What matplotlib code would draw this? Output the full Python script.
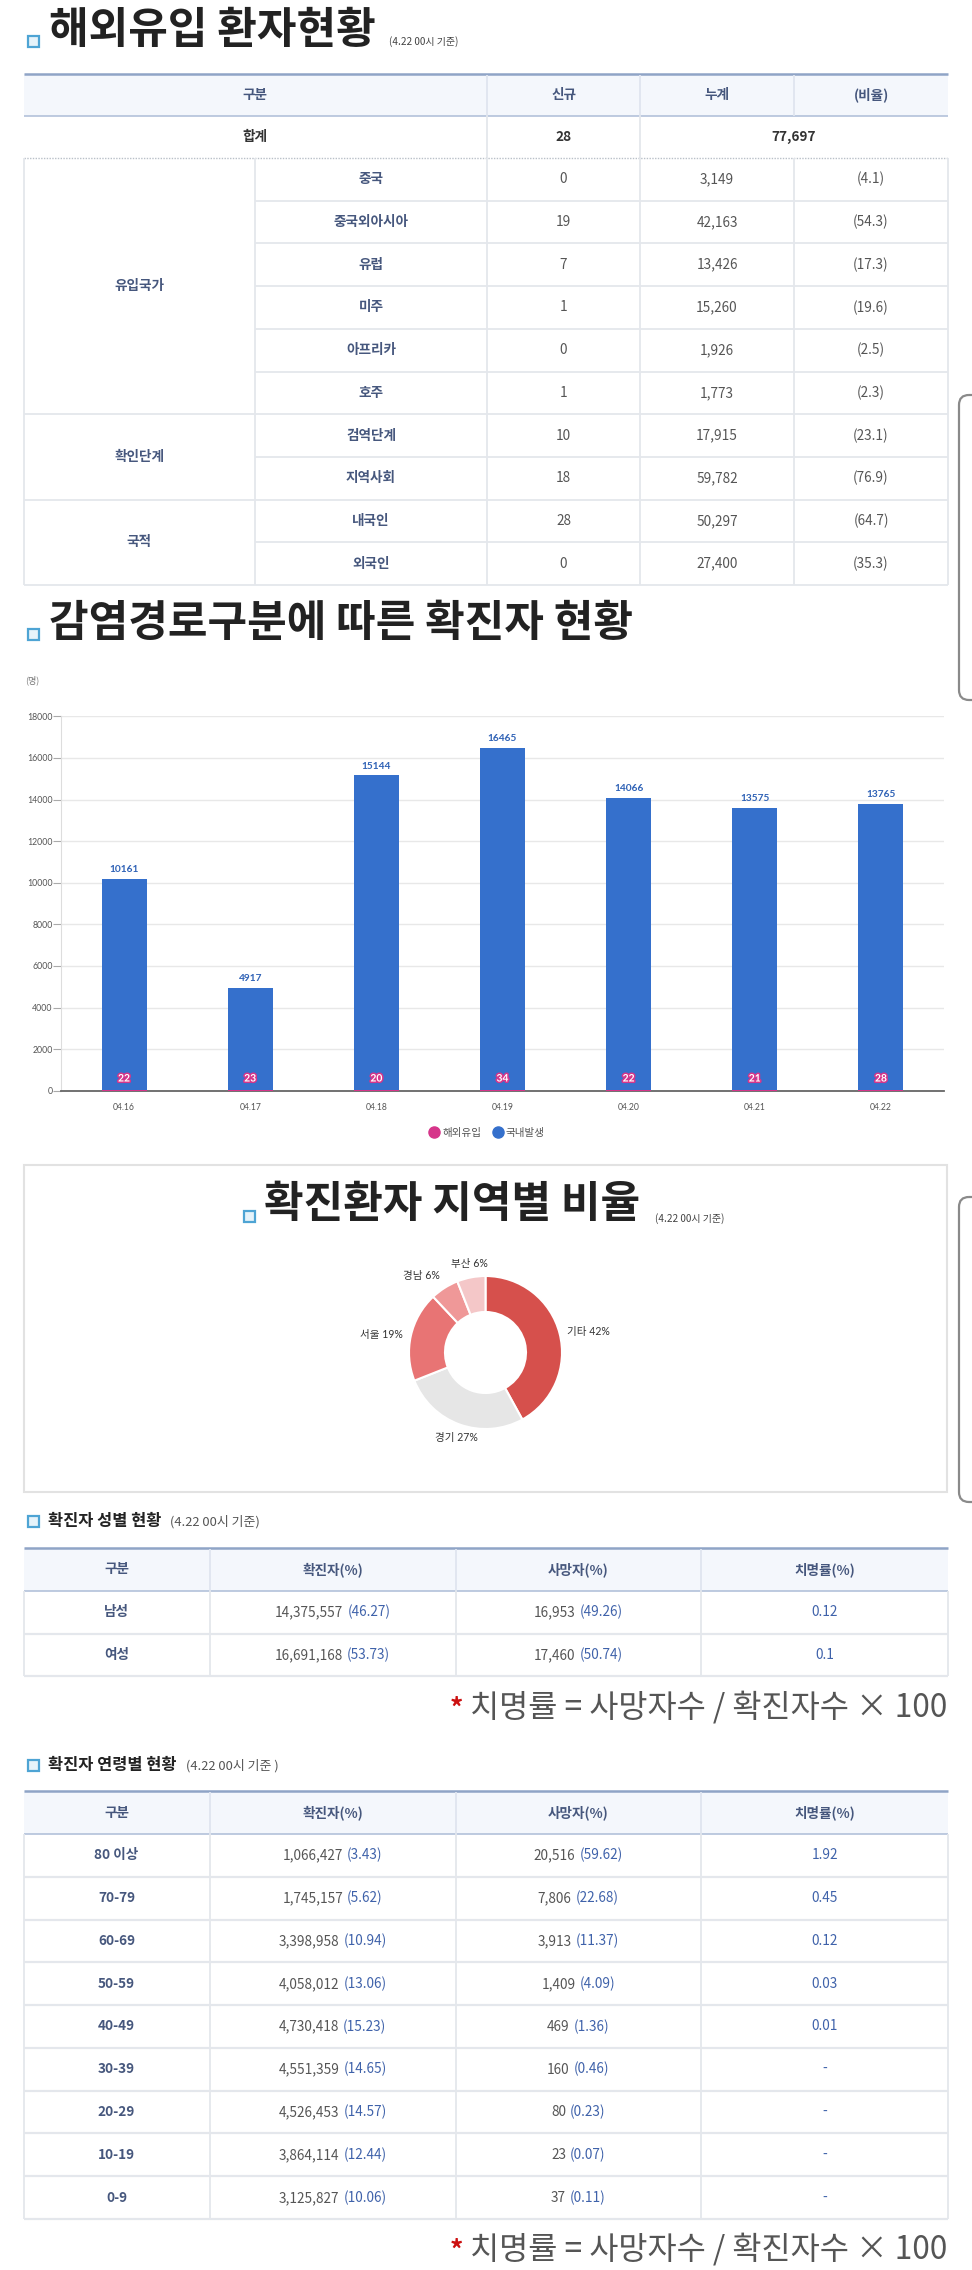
import matplotlib
matplotlib.use("Agg")
import matplotlib.pyplot as plt
import matplotlib.patheffects as pe
from matplotlib.patches import Rectangle, FancyBboxPatch
from matplotlib.lines import Line2D
from matplotlib.offsetbox import TextArea, HPacker, AnnotationBbox
import numpy as np

plt.rcParams["font.family"] = ["Noto Sans CJK KR", "DejaVu Sans"]

# ---------------- 데이터 ----------------
# 해외유입 환자현황
imp_header = ["구분", "신규", "누계", "(비율)"]
imp_total_new = 28
imp_total_cum = 77697
imp_groups = ["유입국가", "확인단계", "국적"]
imp_group_sizes = [6, 2, 2]
imp_items = ["중국", "중국외아시아", "유럽", "미주", "아프리카", "호주",
             "검역단계", "지역사회", "내국인", "외국인"]
imp_new = [0, 19, 7, 1, 0, 1, 10, 18, 28, 0]
imp_cum = [3149, 42163, 13426, 15260, 1926, 1773, 17915, 59782, 50297, 27400]
imp_ratio = [4.1, 54.3, 17.3, 19.6, 2.5, 2.3, 23.1, 76.9, 64.7, 35.3]

# 감염경로구분에 따른 확진자 현황
dates = ["04.16", "04.17", "04.18", "04.19", "04.20", "04.21", "04.22"]
overseas = [22, 23, 20, 34, 22, 21, 28]
domestic = [10161, 4917, 15144, 16465, 14066, 13575, 13765]

# 확진환자 지역별 비율
regions = ["기타", "경기", "서울", "경남", "부산"]
region_pct = [42, 27, 19, 6, 6]
region_colors = ["#d6504c", "#e6e6e6", "#e87474", "#ef9898", "#f4c7c8"]

# 확진자 성별 현황
stat_header = ["구분", "확진자(%)", "사망자(%)", "치명률(%)"]
sex_labels = ["남성", "여성"]
sex_cases = [14375557, 16691168]
sex_cases_pct = ["46.27", "53.73"]
sex_deaths = [16953, 17460]
sex_deaths_pct = ["49.26", "50.74"]
sex_cfr = ["0.12", "0.1"]

# 확진자 연령별 현황
age_labels = ["80 이상", "70-79", "60-69", "50-59", "40-49", "30-39", "20-29", "10-19", "0-9"]
age_cases = [1066427, 1745157, 3398958, 4058012, 4730418, 4551359, 4526453, 3864114, 3125827]
age_cases_pct = ["3.43", "5.62", "10.94", "13.06", "15.23", "14.65", "14.57", "12.44", "10.06"]
age_deaths = [20516, 7806, 3913, 1409, 469, 160, 80, 23, 37]
age_deaths_pct = ["59.62", "22.68", "11.37", "4.09", "1.36", "0.46", "0.23", "0.07", "0.11"]
age_cfr = ["1.92", "0.45", "0.12", "0.03", "0.01", "-", "-", "-", "-"]

# ---------------- 스타일 ----------------
W, H = 972, 2270
LINE = "#e4e7ec"
HEAD_BG = "#f4f7fc"
HEAD_TOP = "#8fa4c6"
NAVY = "#46577d"
GRAY = "#555555"
BLUE = "#3f62aa"
BAR_BLUE = "#3570cc"
PINK = "#d6358a"
FS = 9.8
TITLE_FS = 31
CHART_FONT = ["Lato", "Noto Sans CJK KR"]

fig = plt.figure(figsize=(W / 100, H / 100), dpi=100)
fig.patch.set_facecolor("white")
bg = fig.add_axes([0, 0, 1, 1])
bg.set_xlim(0, W)
bg.set_ylim(H, 0)
bg.axis("off")


def hline(x0, x1, y, color=LINE, lw=1.3, ls="-"):
    bg.plot([x0, x1], [y, y], color=color, lw=lw, ls=ls, solid_capstyle="butt")


def vline(x, y0, y1, color=LINE, lw=1.3):
    bg.plot([x, x], [y0, y1], color=color, lw=lw, solid_capstyle="butt")


def icon(x, y, s=11):
    bg.add_patch(Rectangle((x, y), s, s, fc="#e6f3fa", ec="#4ea4d4", lw=1.6))


def txt(x, y, s, **kw):
    kw.setdefault("ha", "center")
    kw.setdefault("va", "center")
    bg.text(x, y, s, **kw)


def two_tone(x, y, a, b, size=FS):
    box = HPacker(children=[TextArea(a, textprops=dict(color=GRAY, size=size)),
                            TextArea("(" + b + ")", textprops=dict(color=BLUE, size=size))],
                  sep=3, pad=0, align="baseline")
    bg.add_artist(AnnotationBbox(box, (x, y), xycoords="data", frameon=False,
                                 box_alignment=(0.5, 0.5), pad=0))


def header_block(x0, x1, y0, y1):
    bg.add_patch(Rectangle((x0, y0), x1 - x0, y1 - y0, fc=HEAD_BG, ec="none"))
    hline(x0, x1, y0, color=HEAD_TOP, lw=1.8)
    hline(x0, x1, y1, color="#b3c1da", lw=1.2)


def footnote(y):
    box = HPacker(children=[TextArea("*", textprops=dict(color="#cc1111", size=19, weight="bold")),
                            TextArea("치명률 = 사망자수 / 확진자수 × 100",
                                     textprops=dict(color="#555555", size=22.8))],
                  sep=5, pad=0, align="baseline")
    bg.add_artist(AnnotationBbox(box, (947, y), xycoords="data", frameon=False,
                                 box_alignment=(1, 0.5), pad=0))


# ---------------- 1. 해외유입 환자현황 ----------------
icon(28, 36)
txt(49, 30, "해외유입 환자현황", ha="left", size=TITLE_FS, weight="bold", color="#222222")
txt(389, 42, "(4.22 00시 기준)", ha="left", size=7.2, color="#444444")

c1 = [23.5, 255, 487, 640, 794, 948]
t_top, t_head, t_sum = 73.5, 116, 158
rh = (585 - t_sum) / len(imp_items)

header_block(c1[0], c1[-1], t_top, t_head)
for x in c1[2:5]:
    vline(x, t_top + 1, t_head, color="#dfe5ef")
txt((c1[0] + c1[2]) / 2, (t_top + t_head) / 2, imp_header[0], color=NAVY, size=FS, weight="bold")
for j in range(1, 4):
    txt((c1[j + 1] + c1[j + 2]) / 2, (t_top + t_head) / 2, imp_header[j], color=NAVY, size=FS, weight="bold")

# 합계
ys = (t_head + t_sum) / 2
txt((c1[0] + c1[2]) / 2, ys, "합계", color="#333333", size=FS, weight="bold")
txt((c1[2] + c1[3]) / 2, ys, str(imp_total_new), color="#333333", size=FS, weight="bold")
txt((c1[3] + c1[5]) / 2, ys, f"{imp_total_cum:,}", color="#333333", size=FS, weight="bold")
vline(c1[2], t_head, t_sum)
vline(c1[3], t_head, t_sum)
hline(c1[0], c1[-1], t_sum, color="#b9c0c8", lw=1.0, ls=(0, (1, 1)))

# 본문
for i, name in enumerate(imp_items):
    y0 = t_sum + i * rh
    yc = y0 + rh / 2
    txt((c1[1] + c1[2]) / 2, yc, name, color=NAVY, size=FS, weight="bold")
    txt((c1[2] + c1[3]) / 2, yc, str(imp_new[i]), color=GRAY, size=FS)
    txt((c1[3] + c1[4]) / 2, yc, f"{imp_cum[i]:,}", color=GRAY, size=FS)
    txt((c1[4] + c1[5]) / 2, yc, f"({imp_ratio[i]})", color=GRAY, size=FS)
    hline(c1[1], c1[-1], y0 + rh)

start = 0
for g, n in zip(imp_groups, imp_group_sizes):
    gy0 = t_sum + start * rh
    gy1 = t_sum + (start + n) * rh
    txt((c1[0] + c1[1]) / 2, (gy0 + gy1) / 2, g, color=NAVY, size=FS, weight="bold")
    hline(c1[0], c1[1], gy1)
    start += n
for x in c1:
    vline(x, t_sum, t_sum + len(imp_items) * rh)

# ---------------- 2. 감염경로구분에 따른 확진자 현황 ----------------
icon(28, 629)
txt(49, 623, "감염경로구분에 따른 확진자 현황", ha="left", size=TITLE_FS, weight="bold", color="#222222")
txt(25, 680, "(명)", ha="left", size=6.5, color="#777777")

ax = fig.add_axes([61 / W, 1 - 1090.7 / H, 883 / W, 374.3 / H])
xpos = np.arange(len(dates))
b_over = ax.bar(xpos, overseas, width=0.357, color=PINK, zorder=3)
b_dom = ax.bar(xpos, domestic, bottom=overseas, width=0.357, color=BAR_BLUE, zorder=3)
ax.set_xlim(-0.5, len(dates) - 0.5)
ax.set_ylim(0, 18000)
ax.set_yticks(range(0, 18001, 2000))
ax.set_xticks(xpos)
ax.set_xticklabels(dates)
ax.grid(axis="y", color="#e8e8e8", lw=1)
ax.set_axisbelow(True)
for s in ["top", "right"]:
    ax.spines[s].set_visible(False)
ax.spines["left"].set_color("#dddddd")
ax.spines["bottom"].set_color("#666666")
ax.spines["bottom"].set_linewidth(1.3)
ax.tick_params(axis="y", length=5.5, color="#aaaaaa", labelsize=6.3, labelcolor="#555555", pad=0.5)
ax.tick_params(axis="x", length=0, labelsize=6.2, labelcolor="#555555", pad=9)
for lab in ax.get_xticklabels() + ax.get_yticklabels():
    lab.set_fontfamily(CHART_FONT)

ax.bar_label(b_dom, labels=[str(v) for v in domestic], padding=3.5,
             color="#2f62b6", fontsize=7.3, fontweight="bold", family=CHART_FONT)
for i, v in enumerate(overseas):
    ax.annotate(str(v), (xpos[i], 0), xytext=(0, 8.4), textcoords="offset points",
                ha="center", va="center", color="white", fontsize=7.4, fontweight="bold",
                family=CHART_FONT,
                path_effects=[pe.withStroke(linewidth=2.2, foreground=PINK)], zorder=5)

handles = [Line2D([], [], ls="none", marker="o", ms=8, mfc=PINK, mec=PINK),
           Line2D([], [], ls="none", marker="o", ms=8, mfc=BAR_BLUE, mec=BAR_BLUE)]
fig.legend(handles, ["해외유입", "국내발생"], loc="center",
           bbox_to_anchor=(487 / W, 1 - 1133 / H), ncol=2, frameon=False,
           fontsize=7.6, labelcolor="#555555", handletextpad=0.3, columnspacing=1.0,
           handlelength=1.0)

# ---------------- 3. 확진환자 지역별 비율 ----------------
bg.add_patch(Rectangle((23.5, 1165), 923.5, 327, fc="none", ec="#e2e2e2", lw=1.5))
icon(244, 1211)
txt(264, 1204, "확진환자 지역별 비율", ha="left", size=TITLE_FS, weight="bold", color="#222222")
txt(655, 1219, "(4.22 00시 기준)", ha="left", size=7.2, color="#444444")

cx, cy = 485.5, 1352.5
pax = fig.add_axes([(cx - 100) / W, 1 - (cy + 100) / H, 200 / W, 200 / H])
wedges, _ = pax.pie(region_pct, colors=region_colors, startangle=90, counterclock=False,
                    radius=0.765, wedgeprops=dict(width=0.36, edgecolor="white", linewidth=1.5))
pax.set_xlim(-1, 1)
pax.set_ylim(-1, 1)
pax.axis("off")
for w, name, p in zip(wedges, regions, region_pct):
    ang = np.deg2rad((w.theta1 + w.theta2) / 2)
    ca, sa = np.cos(ang), np.sin(ang)
    ha = "left" if ca > 0.35 else ("right" if ca < -0.35 else "center")
    va = "bottom" if sa > 0.5 else ("top" if sa < -0.5 else "center")
    pax.text(0.845 * ca, 0.845 * sa, f"{name} {p}%", ha=ha, va=va, fontsize=7.6,
             color="#333333", family=CHART_FONT)


# ---------------- 4/5. 성별, 연령별 ----------------
c2 = [23.5, 209.5, 455.7, 701, 948]


def stat_table(top, head_h, row_h, labels, cases, cases_pct, deaths, deaths_pct, cfr):
    hb = top + head_h
    header_block(c2[0], c2[-1], top, hb)
    for x in c2[1:-1]:
        vline(x, top + 1, hb, color="#dfe5ef")
    for j, h in enumerate(stat_header):
        txt((c2[j] + c2[j + 1]) / 2, (top + hb) / 2, h, color=NAVY, size=FS, weight="bold")
    for i, lab in enumerate(labels):
        y0 = hb + i * row_h
        yc = y0 + row_h / 2
        txt((c2[0] + c2[1]) / 2, yc, lab, color=NAVY, size=FS, weight="bold")
        two_tone((c2[1] + c2[2]) / 2, yc, f"{cases[i]:,}", cases_pct[i])
        two_tone((c2[2] + c2[3]) / 2, yc, f"{deaths[i]:,}", deaths_pct[i])
        txt((c2[3] + c2[4]) / 2, yc, cfr[i], color=BLUE, size=FS)
        hline(c2[0], c2[-1], y0 + row_h, lw=1.6)
    for x in c2:
        vline(x, hb, hb + len(labels) * row_h)


icon(28, 1516)
txt(48, 1521, "확진자 성별 현황", ha="left", size=11.8, weight="bold", color="#222222")
txt(170, 1522, "(4.22 00시 기준)", ha="left", size=9.3, color="#555555")
stat_table(1548, 43, 42.5, sex_labels, sex_cases, sex_cases_pct, sex_deaths, sex_deaths_pct, sex_cfr)
footnote(1707)

icon(28, 1760)
txt(48, 1765, "확진자 연령별 현황", ha="left", size=11.8, weight="bold", color="#222222")
txt(186, 1766, "(4.22 00시 기준 )", ha="left", size=9.3, color="#555555")
stat_table(1791, 43, (2219 - 1834) / len(age_labels), age_labels, age_cases, age_cases_pct,
           age_deaths, age_deaths_pct, age_cfr)
footnote(2249)

# 오른쪽 가장자리의 떠 있는 패널 테두리
for y0, y1 in [(395, 700), (1197, 1502)]:
    bg.add_patch(FancyBboxPatch((959, y0), 40, y1 - y0, boxstyle="round,pad=0,rounding_size=10",
                                fc="none", ec="#8a8a8a", lw=1.6))

plt.savefig("out.png", dpi=100)
